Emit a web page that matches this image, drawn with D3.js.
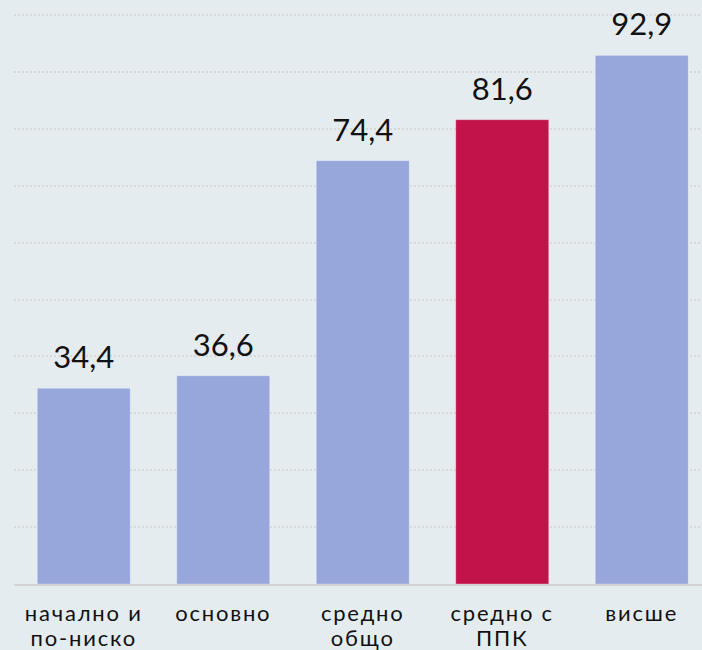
<!DOCTYPE html>
<html><head><meta charset="utf-8">
<script src="https://cdn.jsdelivr.net/npm/d3@7"></script>
<style>html,body{margin:0;padding:0;background:#e5ecef;}svg{display:block;}</style>
</head><body>
<svg id="c" width="702" height="650"></svg>
<script>
const categories = ["начално и по-ниско", "основно", "средно общо", "средно с ППК", "висше"];
const tickLabels = [["начално и", "по-ниско"], ["основно"], ["средно", "общо"], ["средно с", "ППК"], ["висше"]];
const values = [34.4, 36.6, 74.4, 81.6, 92.9];
const highlight = ["средно с ППК"];
const yTicks = [0, 10, 20, 30, 40, 50, 60, 70, 80, 90, 100];

const svg = d3.select("#c");
const W = 702, H = 650;
svg.append("rect").attr("width", W).attr("height", H).attr("fill", "#e5ecef");

const x = d3.scaleBand().domain(categories).range([14, 711.5]).paddingInner(1/3).paddingOuter(1/6);
const y = d3.scaleLinear().domain([0, 100]).range([584, 15]);

const grid = svg.append("g");
grid.selectAll("line").data(yTicks.filter(t => t > 0)).join("line")
  .attr("x1", 14).attr("x2", W)
  .attr("y1", d => Math.round(y(d))).attr("y2", d => Math.round(y(d)))
  .attr("stroke", "#d6d8da").attr("stroke-width", 2).attr("stroke-dasharray", "2,2");

svg.append("g").selectAll("rect").data(values).join("rect")
  .attr("x", (d, i) => x(categories[i]))
  .attr("width", x.bandwidth())
  .attr("y", d => y(d))
  .attr("height", d => y(0) - y(d))
  .attr("fill", (d, i) => highlight.includes(categories[i]) ? "#c2134b" : "#97a6db")
  .attr("stroke", "rgba(255,255,255,0.3)").attr("stroke-width", 1);

svg.append("line").attr("x1", 14).attr("x2", W).attr("y1", 585).attr("y2", 585)
  .attr("stroke", "#d3d3d6").attr("stroke-width", 2);

const fmt = v => d3.format(".1f")(v).replace(".", ",");
svg.append("g").selectAll("text").data(values).join("text")
  .attr("x", (d, i) => x(categories[i]) + x.bandwidth() / 2)
  .attr("y", d => y(d) - 20)
  .attr("text-anchor", "middle")
  .attr("font-family", "Lato, 'Noto Sans', sans-serif")
  .attr("font-size", 31)
  .attr("fill", "#111")
  .text(d => fmt(d));

const xl = svg.append("g");
tickLabels.forEach((lines, i) => {
  const cx = x(categories[i]) + x.bandwidth() / 2;
  const t = xl.append("text")
    .attr("x", cx)
    .attr("y", 621)
    .attr("text-anchor", "middle")
    .attr("font-family", "Lato, 'Noto Sans', sans-serif")
    .attr("font-size", 22)
    .attr("letter-spacing", 1.8)
    .attr("fill", "#111");
  lines.forEach((l, j) => t.append("tspan").attr("x", cx).attr("dy", j === 0 ? 0 : 25).text(l));
});
</script>
</body></html>
